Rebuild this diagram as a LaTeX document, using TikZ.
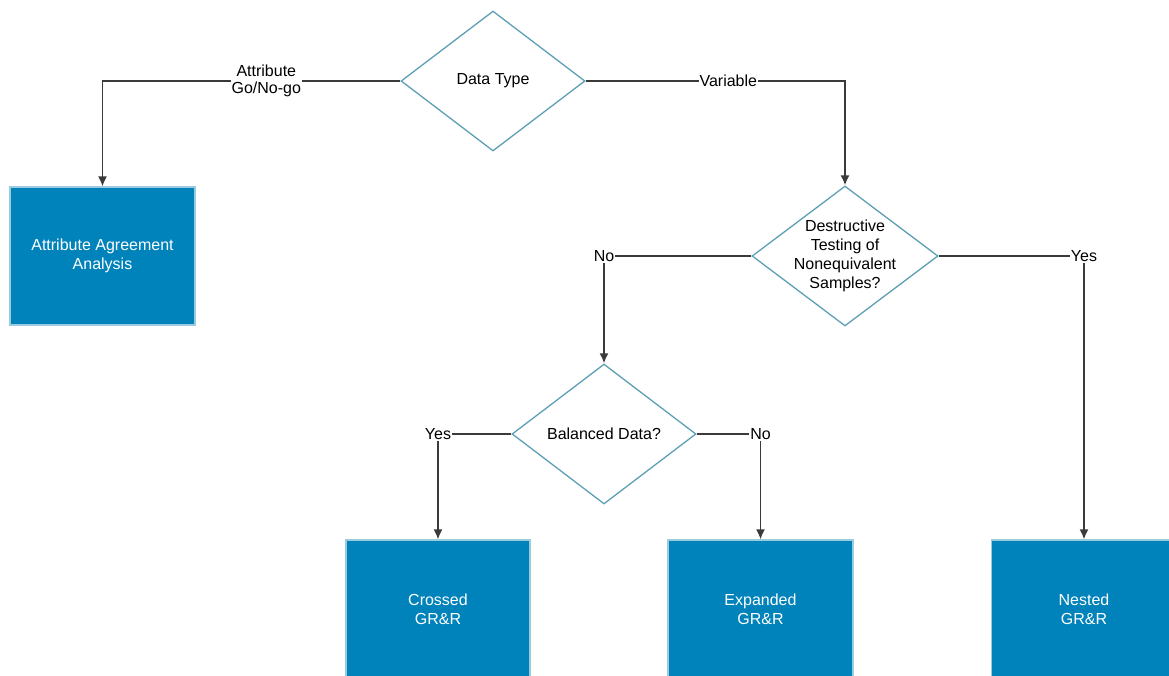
\documentclass[tikz,border=0pt]{standalone}
\usepackage{fontspec}
\setmainfont{Liberation Sans}
\usetikzlibrary{shapes.geometric,arrows.meta}
\definecolor{boxblue}{HTML}{0082BA}
\definecolor{boxedge}{HTML}{9CCBE0}
\definecolor{diaedge}{HTML}{5C9FB6}
\definecolor{wire}{HTML}{3A3A3A}
\tikzset{
  decision/.style={diamond, draw=diaedge, line width=1.3pt, fill=white,
    minimum width=184pt, minimum height=140pt, inner sep=0pt},
  qtext/.style={align=center, font=\fontsize{16}{19}\selectfont, text=black},
  result/.style={rectangle, draw=boxedge, line width=1.2pt, fill=boxblue,
    minimum width=185pt, minimum height=138pt, inner sep=0pt,
    align=center, text=white, font=\fontsize{16}{19}\selectfont},
  conn/.style={draw=wire, line width=1.7pt, -{Latex[length=10pt,width=9pt]}},
  lbl/.style={fill=white, inner sep=1pt, align=center,
    font=\fontsize{16}{17}\selectfont, text=black},
}
\begin{document}
\begin{tikzpicture}[x=1pt,y=-1pt]
\useasboundingbox (0,0) rectangle (1169,675);
\clip (0,0) rectangle (1169,675);

% decisions
\node[decision] (type) at (493,81) {};
\node[qtext] at (type) {Data Type};
\node[decision, minimum width=186pt] (destr) at (845,256) {};
\node[qtext] at (destr) {Destructive\\Testing of\\Nonequivalent\\Samples?};
\node[decision] (bal) at (604,434) {};
\node[qtext] at (bal) {Balanced Data?};

% outcomes
\node[result] (attr) at (102.5,256) {Attribute Agreement\\Analysis};
\node[result, minimum width=184pt] (crossed) at (438,609) {Crossed\\GR\&R};
\node[result] (expanded) at (760.5,609) {Expanded\\GR\&R};
\node[result] (nested) at (1084,609) {Nested\\GR\&R};

% connectors
\draw[conn] (type.west) -| node[lbl, pos=0.225] {Attribute\\Go/No-go} (attr.north);
\draw[conn] (type.east) -| node[lbl, pos=0.275] {Variable} (destr.north);
\draw[conn] (destr.west) -| node[lbl] {No} (bal.north);
\draw[conn] (destr.east) -| node[lbl] {Yes} (nested.north);
\draw[conn] (bal.west) -| node[lbl] {Yes} (crossed.north);
\draw[conn] (bal.east) -| node[lbl] {No} (expanded.north);
\end{tikzpicture}
\end{document}
